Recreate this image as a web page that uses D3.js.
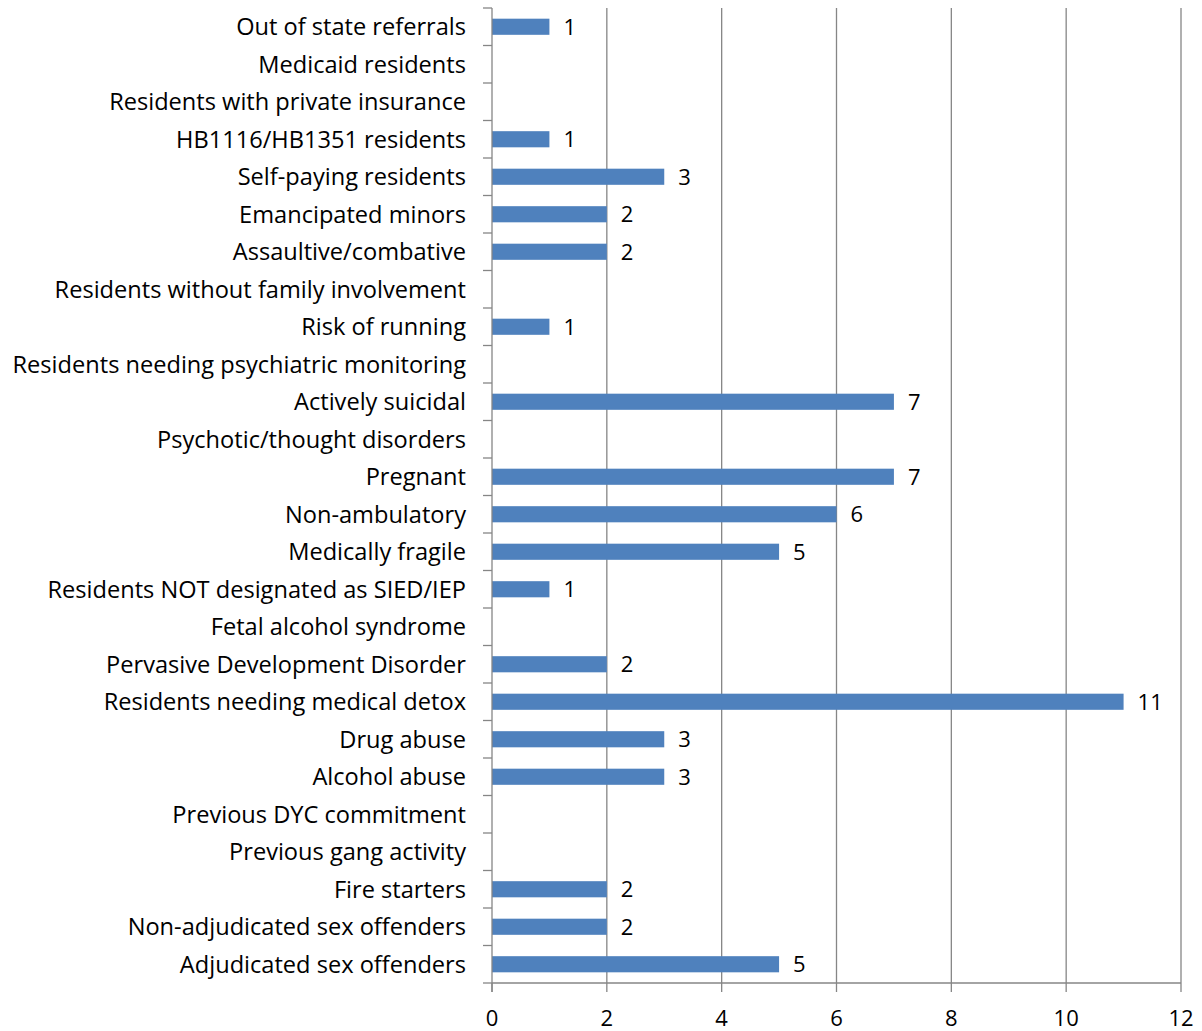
<!DOCTYPE html>
<html>
<head>
<meta charset="utf-8">
<script src="https://d3js.org/d3.v7.min.js"></script>
<style>
  body { margin: 0; background: #fff; }
  text { font-family: "Open Sans", sans-serif; fill: #000; }
</style>
</head>
<body>
<div id="chart"></div>
<script>
const categories = [
  'Out of state referrals', 'Medicaid residents', 'Residents with private insurance',
  'HB1116/HB1351 residents', 'Self-paying residents', 'Emancipated minors',
  'Assaultive/combative', 'Residents without family involvement', 'Risk of running',
  'Residents needing psychiatric monitoring', 'Actively suicidal', 'Psychotic/thought disorders',
  'Pregnant', 'Non-ambulatory', 'Medically fragile', 'Residents NOT designated as SIED/IEP',
  'Fetal alcohol syndrome', 'Pervasive Development Disorder', 'Residents needing medical detox',
  'Drug abuse', 'Alcohol abuse', 'Previous DYC commitment', 'Previous gang activity',
  'Fire starters', 'Non-adjudicated sex offenders', 'Adjudicated sex offenders'
]
const values = [1, 0, 0, 1, 3, 2, 2, 0, 1, 0, 7, 0, 7, 6, 5, 1, 0, 2, 11, 3, 3, 0, 0, 2, 2, 5]
const xTicks = [0, 2, 4, 6, 8, 10, 12]

const rows = categories.map((c, i) => ({ name: c, value: values[i] }))

const w = 1202, h = 1031
const margin = { top: 8, right: 21, bottom: 48, left: 492 }
const labelSize = 23.6
const numSize = 22

const svg = d3.select('#chart').append('svg')
  .attr('width', w).attr('height', h)

const x = d3.scaleLinear().domain([0, 12]).range([margin.left, w - margin.right])
const y = d3.scaleBand().domain(categories).range([margin.top, h - margin.bottom])
  .paddingInner(0.57).paddingOuter(0.285)
const yEdges = d3.scaleLinear().domain([0, categories.length]).range([margin.top, h - margin.bottom])

// gridlines
svg.append('g').selectAll('line')
  .data(xTicks.slice(1))
  .enter().append('line')
  .attr('x1', d => x(d)).attr('x2', d => x(d))
  .attr('y1', margin.top).attr('y2', h - margin.bottom)
  .attr('stroke', '#868686').attr('stroke-width', 1.3)

// bars
svg.append('g').selectAll('rect')
  .data(rows)
  .enter().append('rect')
  .attr('x', x(0))
  .attr('y', d => y(d.name))
  .attr('width', d => x(d.value) - x(0))
  .attr('height', y.bandwidth())
  .attr('fill', '#4F81BD')

// value labels (zeros get none)
svg.append('g').selectAll('text')
  .data(rows.filter(d => d.value > 0))
  .enter().append('text')
  .attr('x', d => x(d.value) + 14)
  .attr('y', d => y(d.name) + y.bandwidth() / 2)
  .attr('dy', '0.36em')
  .attr('font-size', numSize)
  .text(d => d.value)

// y axis
const yAxis = svg.append('g')
yAxis.append('line')
  .attr('x1', x(0)).attr('x2', x(0))
  .attr('y1', margin.top).attr('y2', h - margin.bottom + 9)
  .attr('stroke', '#868686').attr('stroke-width', 1.3)
yAxis.selectAll('.tick')
  .data(d3.range(categories.length + 1))
  .enter().append('line')
  .attr('x1', x(0) - 9).attr('x2', x(0))
  .attr('y1', d => yEdges(d)).attr('y2', d => yEdges(d))
  .attr('stroke', '#868686').attr('stroke-width', 1.3)
yAxis.selectAll('text')
  .data(categories)
  .enter().append('text')
  .attr('x', x(0) - 26)
  .attr('y', d => y(d) + y.bandwidth() / 2)
  .attr('dy', '0.36em')
  .attr('text-anchor', 'end')
  .attr('font-size', labelSize)
  .text(d => d)

// x axis
const xAxis = svg.append('g')
xAxis.append('line')
  .attr('x1', x(0)).attr('x2', x(12))
  .attr('y1', h - margin.bottom).attr('y2', h - margin.bottom)
  .attr('stroke', '#868686').attr('stroke-width', 1.3)
xAxis.selectAll('.tick')
  .data(xTicks)
  .enter().append('line')
  .attr('x1', d => x(d)).attr('x2', d => x(d))
  .attr('y1', h - margin.bottom).attr('y2', h - margin.bottom + 9)
  .attr('stroke', '#868686').attr('stroke-width', 1.3)
xAxis.selectAll('text')
  .data(xTicks)
  .enter().append('text')
  .attr('x', d => x(d))
  .attr('y', h - margin.bottom + 35)
  .attr('dy', '0.36em')
  .attr('text-anchor', 'middle')
  .attr('font-size', numSize)
  .text(d => d)
</script>
</body>
</html>
